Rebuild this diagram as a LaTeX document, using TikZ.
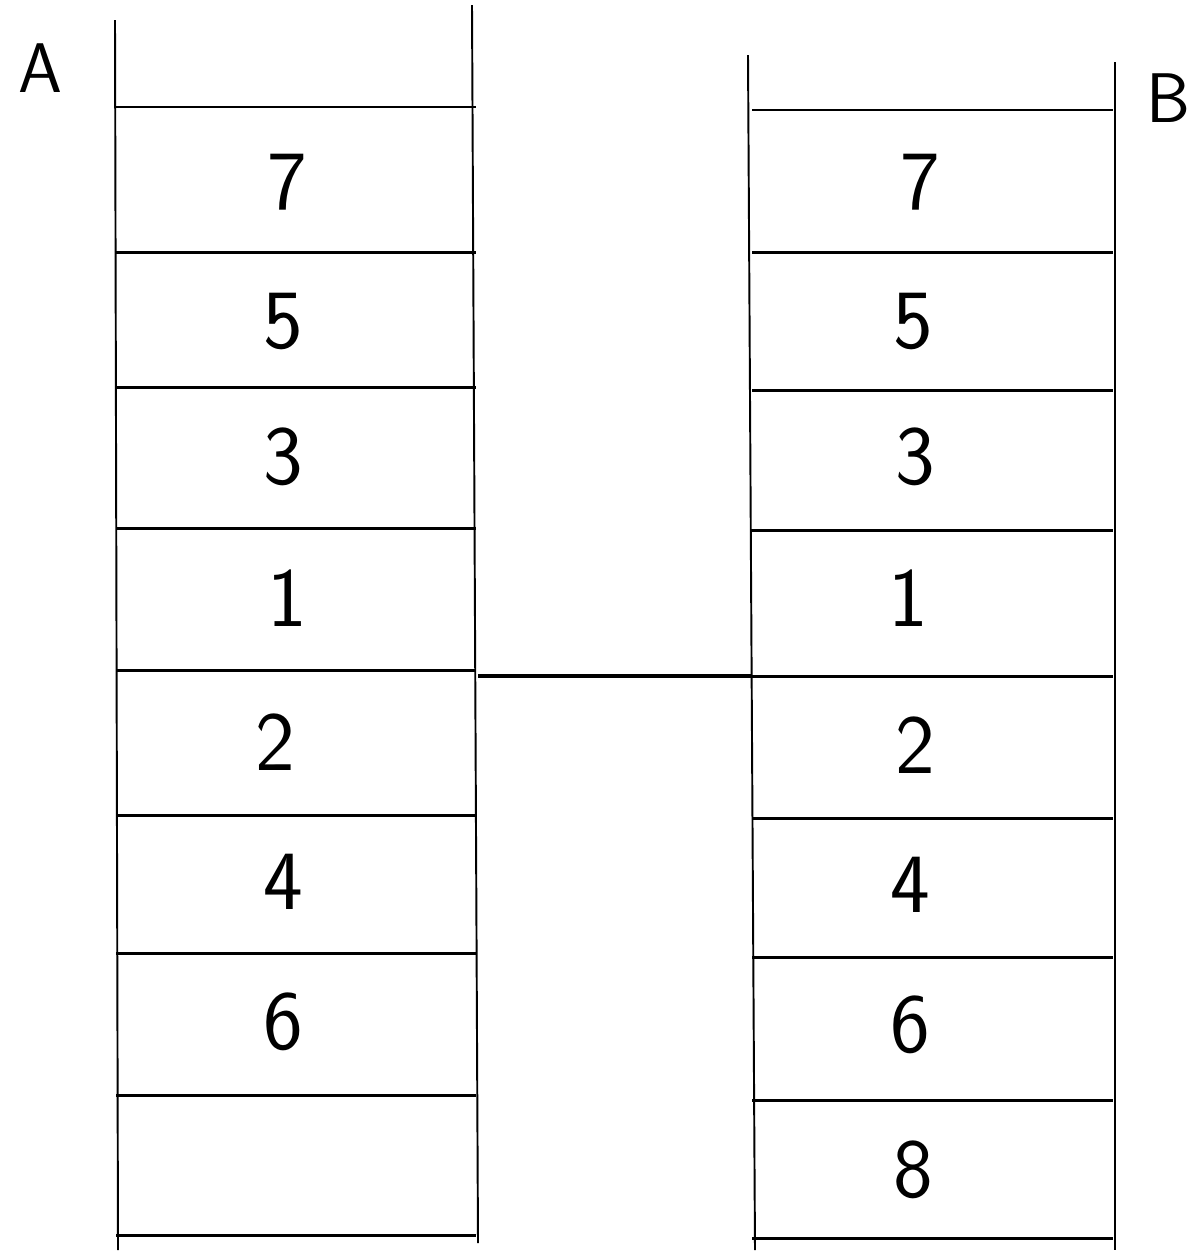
\documentclass[tikz,border=0pt]{standalone}
\begin{document}
\begin{tikzpicture}[x=0.02cm,y=-0.02cm,
  vline/.style={line width=1.1pt,black},
  hline/.style={line width=1.7pt,black},
  num/.style={font=\sffamily\fontsize{48}{56}\selectfont,inner sep=0pt},
  lbl/.style={font=\sffamily\fontsize{40}{48}\selectfont,inner sep=0pt}]
\useasboundingbox (0,0) rectangle (1198,1255);
% column A
\draw[vline] (115,20) -- (118,1250);
\draw[vline] (472,5) -- (478,1243);
\foreach \y in {107,252,387,528,670,815,953,1095,1235}
  \draw[hline] (116,\y) -- (476,\y);
% column B
\draw[vline] (748,55) -- (755,1250);
\draw[vline] (1115,62) -- (1115,1250);
\foreach \y in {110,252,390,530,676,818,957,1100,1238}
  \draw[hline] (752,\y) -- (1113,\y);
% labels
\node[lbl] (A) at (40,68) {A};
\node[lbl] (B) at (1168,98) {B};
% numbers A
\node[num] (a7) at (287,182) {7};
\node[num] (a5) at (283,322) {5};
\node[num] (a3) at (283,457) {3};
\node[num] (a1) at (287,598) {1};
\node[num] (a2) at (275,742) {2};
\node[num] (a4) at (283,882) {4};
\node[num] (a6) at (283,1022) {6};
% numbers B
\node[num] (b7) at (920,182) {7};
\node[num] (b5) at (913,322) {5};
\node[num] (b3) at (915,457) {3};
\node[num] (b1) at (908,598) {1};
\node[num] (b2) at (915,745) {2};
\node[num] (b4) at (910,885) {4};
\node[num] (b6) at (910,1025) {6};
\node[num] (b8) at (913,1170) {8};
% connector
\coordinate (ca) at (478,676);
\coordinate (cb) at (751,676);
\draw[line width=2pt] (ca) -- (cb);
\end{tikzpicture}
\end{document}
